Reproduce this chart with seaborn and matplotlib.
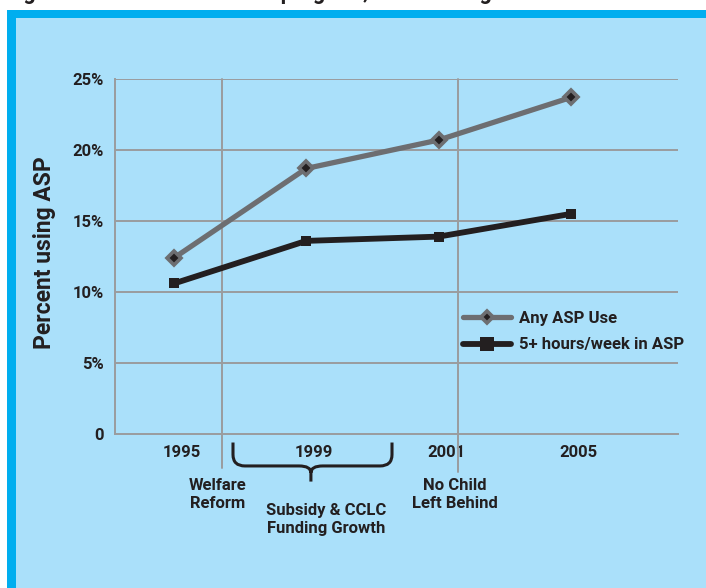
import numpy as np
import pandas as pd
import matplotlib
matplotlib.use("Agg")
import matplotlib.pyplot as plt
import matplotlib.transforms as mtransforms
from matplotlib.patches import Rectangle, PathPatch
from matplotlib.path import Path
import seaborn as sns

# ---- data ----
years = ["1995", "1999", "2001", "2005"]
any_asp = [12.4, 18.7, 20.7, 23.7]
five_plus = [10.6, 13.6, 13.9, 15.5]
series_names = ["Any ASP Use", "5+ hours/week in ASP"]
y_ticks = [0, 5, 10, 15, 20, 25]
y_tick_labels = ["0", "5%", "10%", "15%", "20%", "25%"]

BG = "#aae0fa"
FRAME = "#00aeef"
GRID = "#9a9c9e"
GRAY = "#6d6e71"
INK = "#231f20"

sns.set_theme(style="white")
plt.rcParams["font.family"] = ["Roboto", "DejaVu Sans"]
plt.rcParams["font.weight"] = "bold"

fig = plt.figure(figsize=(7.06, 5.88), dpi=100)
W, H = 706, 588
fig.patch.set_facecolor("white")

# panel frame
fig.patches.append(Rectangle((7 / W, 0), 1, (H - 10) / H, transform=fig.transFigure,
                             facecolor=FRAME, edgecolor="none", zorder=-10))
fig.patches.append(Rectangle((16 / W, 0), 1, (H - 18) / H, transform=fig.transFigure,
                             facecolor=BG, edgecolor="none", zorder=-9))

# caption running off the top edge
fig.text(6 / W, 1 + 1.0 / H, "Figure 1. Use of afterschool program, 1995 through 2005",
         fontsize=15.5, fontweight="bold", color=INK, va="baseline", ha="left")

ax = fig.add_axes([115 / W, 1 - 434 / H, (678 - 115) / W, (434 - 79) / H])
ax.set_facecolor("none")

pos = np.arange(len(years))
df = pd.DataFrame({
    "pos": np.concatenate([pos, pos]),
    "value": any_asp + five_plus,
    "series": [series_names[0]] * len(years) + [series_names[1]] * len(years),
})

sns.lineplot(data=df[df.series == series_names[0]], x="pos", y="value", ax=ax,
             color=GRAY, linewidth=3.8, marker="D", markersize=7.5,
             markerfacecolor=INK, markeredgecolor=GRAY, markeredgewidth=2.6,
             label=series_names[0], zorder=4)
sns.lineplot(data=df[df.series == series_names[1]], x="pos", y="value", ax=ax,
             color=INK, linewidth=4.2, marker="s", markersize=7.5,
             markerfacecolor=INK, markeredgecolor=INK, markeredgewidth=0,
             label=series_names[1], zorder=4)

ax.set_xlim(-0.446, 3.81)
ax.set_ylim(0, 25)
ax.set_yticks(y_ticks)
ax.set_yticklabels(y_tick_labels)
ax.set_xticks(pos)
ax.set_xticklabels(years)
ax.set_xlabel("")
ax.set_ylabel("")
ax.tick_params(axis="both", length=0, labelsize=12, labelcolor=INK)
ax.tick_params(axis="y", pad=8)
ax.tick_params(axis="x", pad=8)
for lab in ax.get_xticklabels():
    lab.set_transform(lab.get_transform() +
                      mtransforms.ScaledTranslation(8 / 100, 0, fig.dpi_scale_trans))
    lab.set_fontweight("bold")
    lab.set_bbox(dict(facecolor=BG, edgecolor="none", pad=1.5))
for lab in ax.get_yticklabels():
    lab.set_fontweight("bold")

# horizontal grid
for v in y_ticks[1:]:
    ax.axhline(v, color=GRID, linewidth=1.4, zorder=1)
for s in ["top", "right"]:
    ax.spines[s].set_visible(False)
for s in ["left", "bottom"]:
    ax.spines[s].set_color(GRID)
    ax.spines[s].set_linewidth(1.4)

# policy event markers
events = [(0.363, -2.4), (2.147, -2.65)]
for ex, ybot in events:
    ax.plot([ex, ex], [25, ybot], color=GRID, linewidth=1.4, clip_on=False, zorder=1)

ax.text(0.329, -4.25, "Welfare\nReform", ha="center", va="center", fontsize=12,
        fontweight="bold", color=INK, linespacing=1.25)
ax.text(1.147, -6.05, "Subsidy & CCLC\nFunding Growth", ha="center", va="center",
        fontsize=12, fontweight="bold", color=INK, linespacing=1.25)
ax.text(2.124, -4.25, "No Child\nLeft Behind", ha="center", va="center", fontsize=12,
        fontweight="bold", color=INK, linespacing=1.25)

# curly brace spanning 1996-2000
def brace(x0, x1, xc, ytop, yarm, ytip, rx, ry):
    verts = [
        (x0, ytop), (x0, yarm + ry), (x0, yarm), (x0 + rx, yarm),
        (xc - rx, yarm), (xc, yarm), (xc, yarm - ry * 0.6),
        (xc, ytip),
        (xc, yarm - ry * 0.6), (xc, yarm), (xc + rx, yarm),
        (x1 - rx, yarm), (x1, yarm), (x1, yarm + ry), (x1, ytop),
    ]
    codes = [Path.MOVETO, Path.LINETO, Path.CURVE3, Path.CURVE3,
             Path.LINETO, Path.CURVE3, Path.CURVE3,
             Path.LINETO,
             Path.MOVETO, Path.CURVE3, Path.CURVE3,
             Path.LINETO, Path.CURVE3, Path.CURVE3, Path.LINETO]
    return Path(verts, codes)

bp = brace(0.446, 1.648, 1.035, -0.6, -2.25, -3.35, 0.09, 0.8)
ax.add_patch(PathPatch(bp, facecolor="none", edgecolor=INK, linewidth=2.2,
                       clip_on=False, capstyle="butt", joinstyle="round"))

fig.text(45 / W, 1 - 253 / H, "Percent using ASP", rotation=90, ha="center", va="center",
         fontsize=16.5, fontweight="bold", color=INK)

leg = ax.legend(loc="upper left", bbox_to_anchor=(463 / W, 1 - 311 / H),
                bbox_transform=fig.transFigure, frameon=False, borderpad=0,
                borderaxespad=0, handlelength=2.9, handletextpad=0.45,
                labelspacing=0.68, prop={"size": 12, "weight": "bold"})
for t in leg.get_texts():
    t.set_color(INK)
leg.legend_handles[0].set_markersize(6.5)
leg.legend_handles[1].set_markersize(10)

fig.savefig("out.png", dpi=100, facecolor="white")
